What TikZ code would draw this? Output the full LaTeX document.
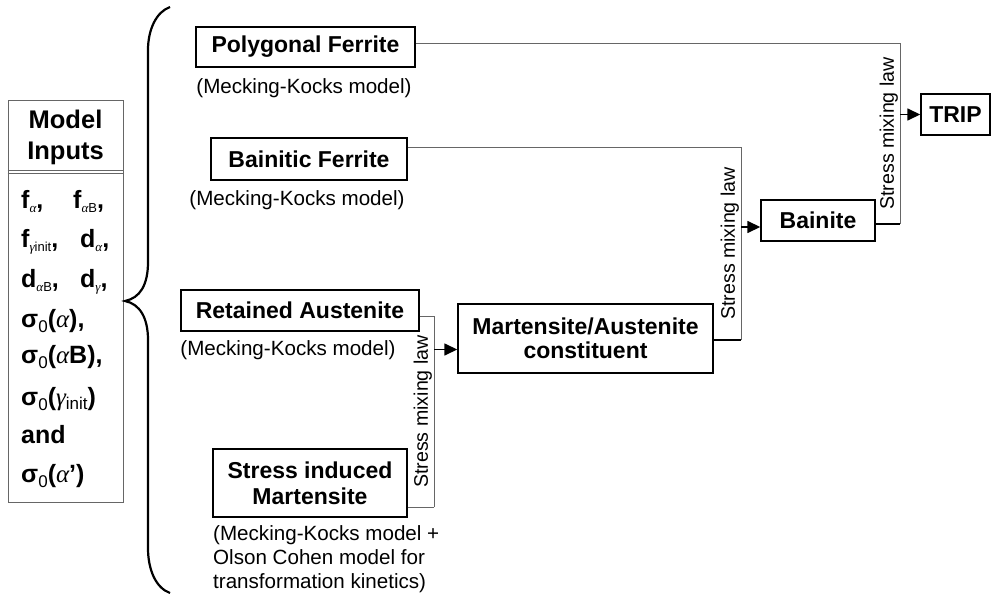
\documentclass[tikz,border=0pt]{standalone}
\usepackage{fontspec}
\setmainfont{Liberation Sans}
\newfontfamily\grk{Liberation Serif}
\usetikzlibrary{arrows.meta,calc}
\newcommand{\sbx}[1]{\raisebox{-0.35ex}{\fontsize{13}{13}\selectfont\mdseries #1}}
\newcommand{\sbz}{\raisebox{-0.45ex}{\fontsize{17}{17}\selectfont\mdseries 0}}
\newcommand{\al}{{\grk\itshape\mdseries α}}
\newcommand{\gam}{{\grk\itshape\mdseries γ}}
\begin{document}
\begin{tikzpicture}[x=1pt,y=-1pt,
  box/.style={draw=black, line width=1.4pt, font=\fontsize{23}{26}\selectfont\bfseries, align=center, inner sep=0pt},
  lab/.style={font=\fontsize{20.6}{24}\selectfont, inner sep=0pt},
  conn/.style={draw=black!60, line width=0.9pt},
  outl/.style={draw=black, line width=1.6pt},
  arr/.style={line width=1.5pt, -{Triangle[length=13pt,width=12pt]}},
  mix/.style={font=\fontsize{19.6}{19.6}\selectfont, rotate=90, anchor=south, inner sep=1.5pt},
  inp/.style={font=\fontsize{25}{25}\selectfont\bfseries, anchor=base west, inner sep=0pt}]
\useasboundingbox (0,0) rectangle (996,594);

% Model inputs
\node[draw=black!60, line width=0.9pt, minimum width=115pt, minimum height=402pt, inner sep=0pt] (MI) at (65.5,301) {};
\coordinate (h1) at (0,170);
\coordinate (h2) at (0,173);
\draw[black!60, line width=0.9pt] (MI.west |- h1) -- (MI.east |- h1);
\draw[black!60, line width=0.9pt] (MI.west |- h2) -- (MI.east |- h2);
\node[font=\fontsize{25.5}{31}\selectfont\bfseries, align=center, inner sep=0pt] (MIh) at (65.5,137) {Model\\Inputs};
\node[inp] (i1a) at (21,208) {f\sbx{\al},};
\node[inp] (i1b) at (73,208) {f\sbx{\al B},};
\node[inp] (i2a) at (21,247) {f\sbx{\gam init},};
\node[inp] (i2b) at (80,247) {d\sbx{\al},};
\node[inp] (i3a) at (21,287) {d\sbx{\al B},};
\node[inp] (i3b) at (80,287) {d\sbx{\gam},};
\node[inp] (i4) at (21,327) {σ\sbz(\al),};
\node[inp] (i5) at (21,363) {σ\sbz(\al B),};
\node[inp] (i6) at (21,405) {σ\sbz(\gam\sbx{\fontsize{17}{17}\selectfont init})};
\node[inp] (i7) at (21,443) {and};
\node[inp] (i8) at (21,482) {σ\sbz(\al')};

% brace
\draw[line width=2.2pt] (170,7) .. controls (156,12) and (148,30) .. (148,50) -- (148,262)
  .. controls (148,285) and (140,298) .. (125,301)
  .. controls (140,304) and (148,318) .. (148,340) -- (148,548)
  .. controls (148,570) and (156,588) .. (170,593);

% boxes
\node[box, minimum width=219pt, minimum height=40pt] (PF) at (305.5,47) {Polygonal Ferrite};
\node[lab] (PFl) at (304,88) {(Mecking-Kocks model)};
\node[box, minimum width=196pt, minimum height=42pt] (BF) at (309,159) {Bainitic Ferrite};
\node[lab] (BFl) at (297,200) {(Mecking-Kocks model)};
\node[box, minimum width=238pt, minimum height=41pt] (RA) at (300,310.5) {Retained Austenite};
\node[lab] (RAl) at (288,350) {(Mecking-Kocks model)};
\node[box, minimum width=194pt, minimum height=68pt] (SIM) at (310,483) {Stress induced\\Martensite};
\node[lab, align=left, anchor=north west, font=\fontsize{20.6}{24}\selectfont] (SIMl) at (213,525) {(Mecking-Kocks model +\\Olson Cohen model for\\transformation kinetics)};
\node[box, minimum width=255pt, minimum height=69pt, font=\fontsize{23}{24.5}\selectfont\bfseries] (MA) at (585.5,338.5) {Martensite/Austenite\\constituent};
\node[box, minimum width=114pt, minimum height=41pt] (BA) at (818,220.5) {Bainite};
\node[box, minimum width=69pt, minimum height=41pt] (TR) at (955.5,114.5) {TRIP};

% bar positions
\coordinate (xA) at (434,0);
\coordinate (xB) at (741,0);
\coordinate (xC) at (900,0);

% first mixing
\coordinate (raO) at ([yshift=-5.5pt]RA.east);
\coordinate (simO) at ([yshift=-24pt]SIM.east);
\coordinate (maI) at ([yshift=-11pt]MA.west);
\draw[conn] (raO) -- (raO -| xA) coordinate (a1);
\draw[conn] (simO) -- (simO -| xA) coordinate (a2);
\draw[conn] (a2) -- node[mix, midway] {Stress mixing law} (a1);
\draw[arr] (maI -| xA) -- (maI);

% second mixing
\coordinate (bfO) at ([yshift=12pt]BF.east);
\coordinate (maO) at ([yshift=-1.5pt]MA.east);
\coordinate (baI) at ([yshift=-6.5pt]BA.west);
\draw[conn] (bfO) -- (bfO -| xB) coordinate (b1);
\draw[outl] (maO) -- (maO -| xB) coordinate (b2);
\draw[conn] (b2) -- node[mix, midway] {Stress mixing law} (b1);
\draw[arr] (baI -| xB) -- (baI);

% third mixing
\coordinate (pfO) at ([yshift=4pt]PF.east);
\coordinate (baO) at ([yshift=-3.5pt]BA.east);
\draw[conn] (pfO) -- (pfO -| xC) coordinate (c1);
\draw[outl] (baO) -- (baO -| xC) coordinate (c2);
\draw[conn] (c2) -- node[mix, midway] {Stress mixing law} (c1);
\draw[arr] (TR.west -| xC) -- (TR.west);
\end{tikzpicture}
\end{document}
